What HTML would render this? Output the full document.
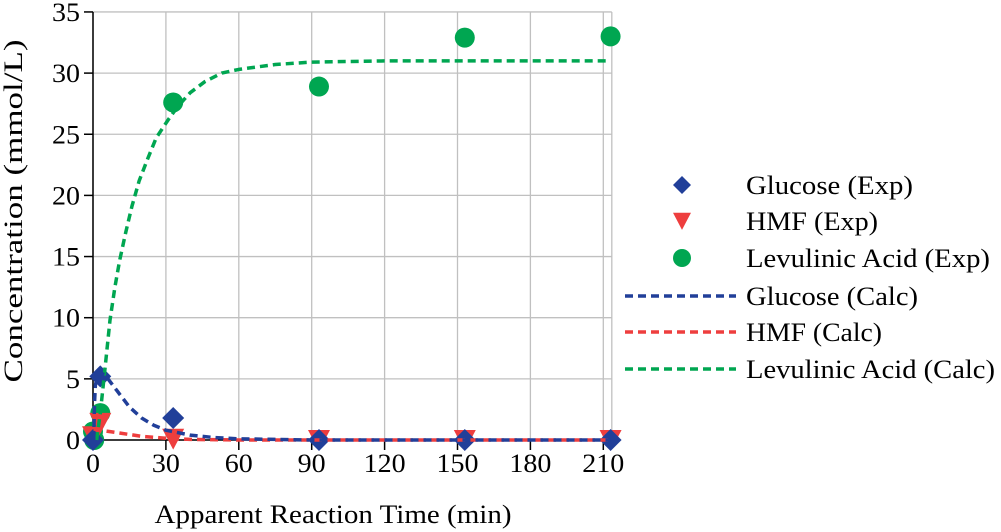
<!DOCTYPE html>
<html><head><meta charset="utf-8"><style>
html,body{margin:0;padding:0;background:#fff;}
svg{display:block;font-family:"Liberation Serif",serif;}
</style></head><body>
<svg id="chart" width="1001" height="532" viewBox="0 0 1001 532" xmlns="http://www.w3.org/2000/svg">
<g id="grid"></g>
<g id="axes"></g>
<g id="series"></g>
<g id="legend"></g>
</svg>
<script>
const xTicks=[0,30,60,90,120,150,180,210];
const yTicks=[0,5,10,15,20,25,30,35];
const gluT=[0,3,33,93,153,213];
const gluV=[0,5.2,1.8,0,0,0];
const hmfT=[0,3,33,93,153,213];
const hmfV=[0.4,1.5,0.2,0.1,0.1,0.1];
const laT=[0,0.5,3,33,93,153,213];
const laV=[0.7,0,2.2,27.6,28.9,32.9,33.0];
const gluCT=[0.3,0.6,1,2,3,5,10,15,20,25,30,40,50,60,90,213];
const gluCV=[0,3,4.5,5.3,5.5,5.3,4,2.7,1.8,1.2,0.8,0.4,0.2,0.1,0,0];
const hmfCT=[0.3,3,10,20,30,40,60,213];
const hmfCV=[0.9,0.8,0.6,0.3,0.15,0.05,0,0];
const laCT=[1.5,2,3,5,7,9,11,13.5,16,19,22.5,26,31,35,40,46,53,60,75,90,120,213];
const laCV=[0,0.8,2.2,6,9.8,12.5,14.7,17,19.1,21.2,23,24.7,26.2,27.3,28.4,29.3,30,30.3,30.7,30.9,31,31];
const X0=93,XS=2.43,Y0=440,YS=12.23;
const sx=t=>X0+t*XS, sy=v=>Y0-v*YS;
const NS='http://www.w3.org/2000/svg';
function mk(tag,attrs,parent){const e=document.createElementNS(NS,tag);for(const k in attrs)e.setAttribute(k,attrs[k]);parent.appendChild(e);return e;}
const grid=document.getElementById('grid'),axes=document.getElementById('axes'),series=document.getElementById('series'),legend=document.getElementById('legend');
const xMax=213.5;
xTicks.forEach(t=>{const l=mk('line',{x1:sx(t),x2:sx(t),y1:sy(35),y2:Y0,stroke:'#c0c0c0','stroke-width':1.3},grid);

});
mk('line',{x1:sx(xMax),x2:sx(xMax),y1:sy(35),y2:Y0,stroke:'#c0c0c0','stroke-width':1.3},grid);
yTicks.forEach(v=>{const l=mk('line',{x1:X0,x2:sx(xMax),y1:sy(v),y2:sy(v),stroke:'#c0c0c0','stroke-width':1.3},grid);

});
mk('line',{x1:X0,x2:X0,y1:sy(35),y2:Y0+1,stroke:'#000','stroke-width':1.5},axes);
mk('line',{x1:X0,x2:sx(xMax),y1:Y0,y2:Y0,stroke:'#000','stroke-width':1.5},axes);
yTicks.forEach(v=>{mk('line',{x1:X0-9,x2:X0,y1:sy(v),y2:sy(v),stroke:'#000','stroke-width':1.5},axes);
const s=String(v);
const t=mk('text',{x:X0-13,y:sy(v)+9,'text-anchor':'end','font-size':26,textLength:14*s.length,lengthAdjust:'spacingAndGlyphs'},axes);t.textContent=s;

});
xTicks.forEach(v=>{mk('line',{x1:sx(v),x2:sx(v),y1:Y0,y2:Y0+10,stroke:'#000','stroke-width':1.5},axes);
const s=String(v);
const t=mk('text',{x:sx(v),y:Y0+32,'text-anchor':'middle','font-size':26,textLength:14*s.length,lengthAdjust:'spacingAndGlyphs'},axes);t.textContent=s;

});
const xt=mk('text',{x:333,y:523,'text-anchor':'middle','font-size':26,textLength:357,lengthAdjust:'spacingAndGlyphs'},axes);xt.textContent='Apparent Reaction Time (min)';


const yt=mk('text',{x:0,y:0,'text-anchor':'middle','font-size':26,textLength:343,lengthAdjust:'spacingAndGlyphs',transform:'translate(22,211) rotate(-90)'},axes);yt.textContent='Concentration (mmol/L)';


const BLUE='#213f99',RED='#ee3e3e',GREEN='#00a651';
function curve(T,V,c,name){const d=T.map((t,i)=>(i?'L':'M')+sx(t).toFixed(1)+','+sy(V[i]).toFixed(1)).join('');
const p=mk('path',{d:d,fill:'none',stroke:c,'stroke-width':3.5,'stroke-dasharray':'8,5','stroke-linejoin':'round'},series);

}
function diamond(x,y,r,g){return mk('polygon',{points:`${x},${y-r} ${x+r},${y} ${x},${y+r} ${x-r},${y}`,fill:BLUE},g);}
function tri(x,y,r,g){return mk('polygon',{points:`${x-r},${y-r*0.8} ${x+r},${y-r*0.8} ${x},${y+r*1.1}`,fill:RED},g);}
function circ(x,y,r,g){return mk('circle',{cx:x,cy:y,r:r,fill:GREEN},g);}
laT.forEach((t,i)=>{const c=circ(sx(t),sy(laV[i]),10,series);

});
hmfT.forEach((t,i)=>{const c=tri(sx(t),sy(hmfV[i]),11,series);

});
gluT.forEach((t,i)=>{const c=diamond(sx(t),sy(gluV[i]),11,series);

});
curve(laCT,laCV,GREEN,'levulinic-calc-line');
curve(hmfCT,hmfCV,RED,'hmf-calc-line');
curve(gluCT,gluCV,BLUE,'glucose-calc-line');
const leg=[['Glucose (Exp)','d'],['HMF (Exp)','t'],['Levulinic Acid (Exp)','c'],['Glucose (Calc)',BLUE],['HMF (Calc)',RED],['Levulinic Acid (Calc)',GREEN]];
const legY=[185,221,258,296,332,369];
const legW=[167,132,244,172,136,249];
leg.forEach((e,i)=>{const g=mk('g',{},legend);


const y=legY[i];
if(e[1]==='d')diamond(682,y,9,g);else if(e[1]==='t')tri(682,y-1,9,g);else if(e[1]==='c')circ(682,y,9,g);
else mk('line',{x1:625,x2:736,y1:y,y2:y,stroke:e[1],'stroke-width':3.5,'stroke-dasharray':'8,5'},g);
const t=mk('text',{x:746,y:y+9,'font-size':26,textLength:legW[i],lengthAdjust:'spacingAndGlyphs'},g);t.textContent=e[0];});
</script>
</body></html>
